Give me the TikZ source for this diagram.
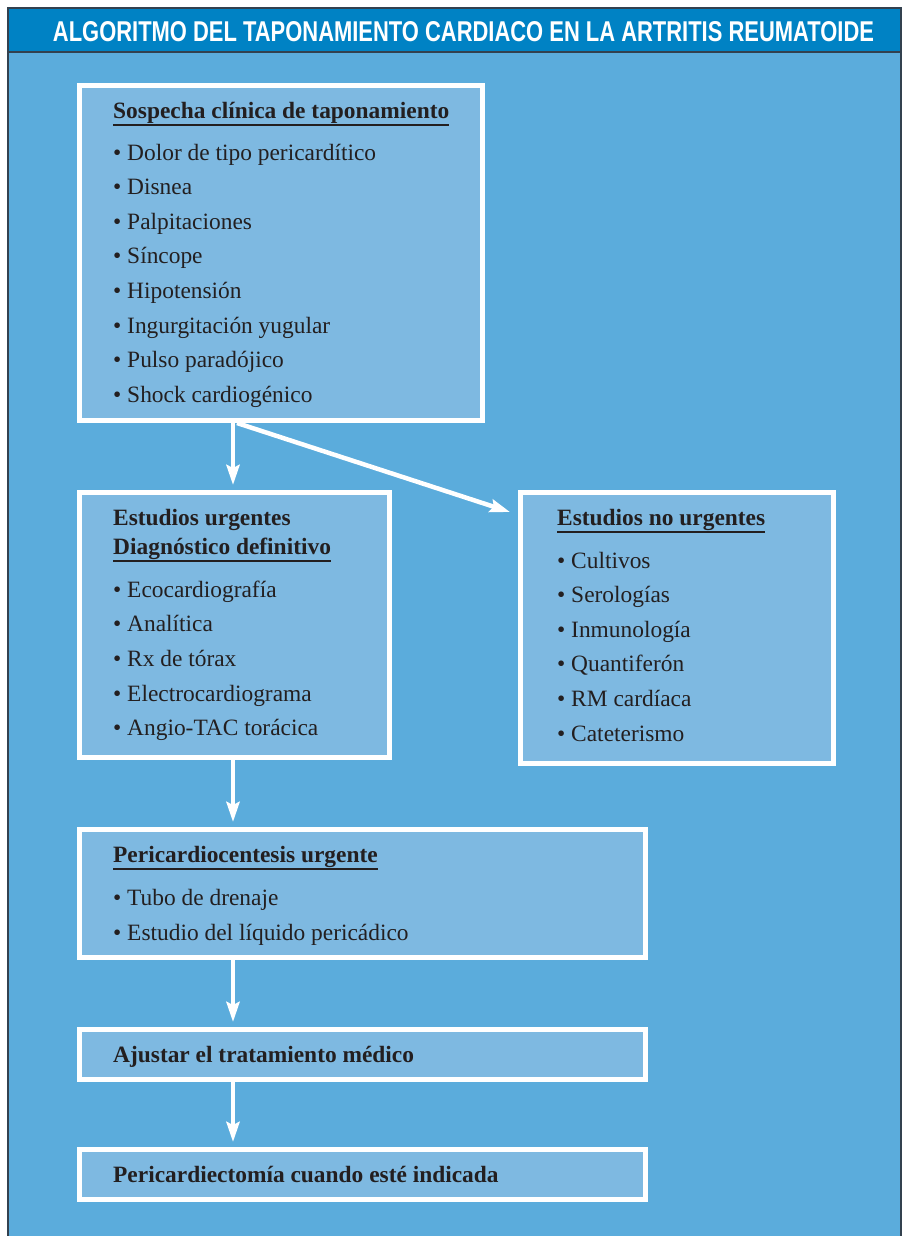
\documentclass[tikz,border=0pt]{standalone}
\usepackage{fontspec}
\usepackage{graphicx}
\setmainfont{Liberation Serif}
\newfontfamily\titlefont{Liberation Sans}
\usetikzlibrary{calc,arrows.meta}
\definecolor{band}{HTML}{0082C4}
\definecolor{sea}{HTML}{5BACDC}
\definecolor{panelfill}{HTML}{7EB9E1}
\definecolor{ink}{HTML}{231F20}
\definecolor{rim}{HTML}{33414F}

\begin{document}
\begin{tikzpicture}[x=1pt,y=-1pt,
    panel/.style={draw=white,line width=5pt,fill=panelfill,anchor=north west,inner sep=0pt},
    head/.style={font=\fontsize{23.4}{27}\selectfont\bfseries,text=ink,inner sep=0pt,anchor=base west},
    item/.style={font=\fontsize{23.4}{27}\selectfont,text=ink,inner sep=0pt,anchor=base west},
    uline/.style={ink,line width=2.2pt},
    flow/.style={white,line width=4.5pt,shorten >=5pt,-{Stealth[length=20pt,width=13pt,inset=3pt]}}]
    \useasboundingbox (0,0) rectangle (904,1236);
    \begin{scope}
    \clip (0,0) rectangle (904,1236);
    \fill[sea] (8,8) rectangle (901,1240);
    \fill[band] (8,8) rectangle (901,52);
    \draw[rim,line width=1.2pt] (8,1240) |- (901,8) -- (901,1240);
    \draw[rim,line width=1.2pt] (8,52) -- (901,52);
    \end{scope}
    \node[text=white,font=\titlefont\bfseries] (title) at (463.5,32)
     {\resizebox{821pt}{20pt}{ALGORITMO DEL TAPONAMIENTO CARDIACO EN LA ARTRITIS REUMATOIDE}};

    % boxes
    \node[panel,minimum width=403pt,minimum height=335pt] (sosp) at (77,83) {};
    \node[panel,minimum width=310pt,minimum height=265pt] (urg) at (77,490) {};
    \node[panel,minimum width=313pt,minimum height=271pt] (nourg) at (518,490) {};
    \node[panel,minimum width=566pt,minimum height=128pt] (peri) at (77,827) {};
    \node[panel,minimum width=566pt,minimum height=50pt] (ajus) at (77,1027) {};
    \node[panel,minimum width=566pt,minimum height=50pt] (pcto) at (77,1147) {};

    % texts
    \node[head] (sosp-h) at ($(sosp.north west)+(36,35)$) {Sospecha clínica de taponamiento};
    \draw[uline] ($(sosp-h.base west)+(0,7)$) -- ($(sosp-h.base east)+(0,7)$);
    \foreach \t [count=\i] in {Dolor de tipo pericardítico,Disnea,Palpitaciones,Síncope,Hipotensión,Ingurgitación yugular,Pulso paradójico,Shock cardiogénico}
      \node[item] (sosp-\i) at ($(sosp.north west)+(36,{42.4+34.6*\i})$) {• \t};

    \node[head] (urg-h) at ($(urg.north west)+(36,35)$) {Estudios urgentes};
    \node[head] (urg-g) at ($(urg.north west)+(36,64)$) {Diagnóstico definitivo};
    \draw[uline] ($(urg-g.base west)+(0,7)$) -- ($(urg-g.base east)+(0,7)$);
    \foreach \t [count=\i] in {Ecocardiografía,Analítica,Rx de tórax,Electrocardiograma,Angio-TAC torácica}
      \node[item] (urg-\i) at ($(urg.north west)+(36,{72.3+34.7*\i})$) {• \t};

    \node[head] (nourg-h) at ($(nourg.north west)+(39,35)$) {Estudios no urgentes};
    \draw[uline] ($(nourg-h.base west)+(0,7)$) -- ($(nourg-h.base east)+(0,7)$);
    \foreach \t [count=\i] in {Cultivos,Serologías,Inmunología,Quantiferón,RM cardíaca,Cateterismo}
      \node[item] (nourg-\i) at ($(nourg.north west)+(39,{43.4+34.6*\i})$) {• \t};

    \node[head] (peri-h) at ($(peri.north west)+(36,35)$) {Pericardiocentesis urgente};
    \draw[uline] ($(peri-h.base west)+(0,7)$) -- ($(peri-h.base east)+(0,7)$);
    \foreach \t [count=\i] in {Tubo de drenaje,Estudio del líquido pericádico}
      \node[item] (peri-\i) at ($(peri.north west)+(36,{43+35*\i})$) {• \t};

    \node[head] (ajus-h) at ($(ajus.north west)+(36,35)$) {Ajustar el tratamiento médico};
    \node[head] (pcto-h) at ($(pcto.north west)+(36,35)$) {Pericardiectomía cuando esté indicada};

    % arrows
    \draw[flow] ([xshift=156pt]sosp.south west) -- ([xshift=156pt]urg.north west);
    \draw[flow,shorten >=0pt] ([xshift=160pt]sosp.south west) -- ([xshift=-8pt,yshift=-22pt]nourg.north west);
    \draw[flow] ([xshift=156pt]urg.south west) -- ([xshift=156pt]peri.north west);
    \draw[flow] ([xshift=156pt]peri.south west) -- ([xshift=156pt]ajus.north west);
    \draw[flow] ([xshift=156pt]ajus.south west) -- ([xshift=156pt]pcto.north west);
\end{tikzpicture}
\end{document}
